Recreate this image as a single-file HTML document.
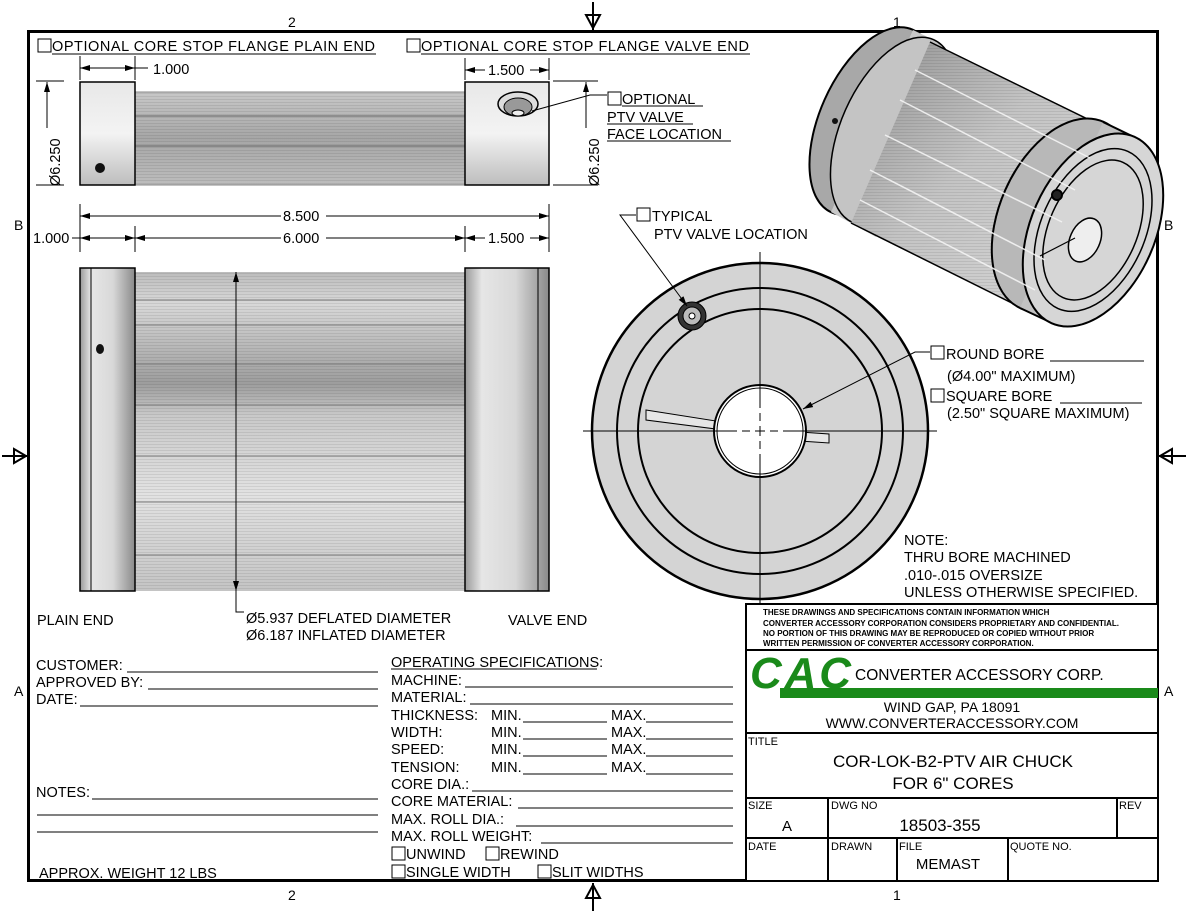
<!DOCTYPE html>
<html><head><meta charset="utf-8"><style>
html,body{margin:0;padding:0;background:#fff;}
svg{display:block;font-family:"Liberation Sans",sans-serif;}
</style></head><body>
<svg width="1200" height="913" viewBox="0 0 1200 913" xmlns="http://www.w3.org/2000/svg">
<defs>
<linearGradient id="flg" x1="0" y1="0" x2="0" y2="1">
<stop offset="0" stop-color="#e8e8e8"/><stop offset="0.5" stop-color="#f3f3f3"/><stop offset="1" stop-color="#bdbdbd"/></linearGradient>
<linearGradient id="flgH" x1="0" y1="0" x2="1" y2="0">
<stop offset="0" stop-color="#9a9a9a"/><stop offset="0.2" stop-color="#e6e6e6"/><stop offset="0.6" stop-color="#d8d8d8"/><stop offset="1" stop-color="#8a8a8a"/></linearGradient>
<linearGradient id="core" x1="0" y1="0" x2="0" y2="1">
<stop offset="0" stop-color="#bcbcbc"/><stop offset="0.1" stop-color="#d8d8d8"/><stop offset="0.35" stop-color="#9d9d9d"/><stop offset="0.45" stop-color="#c9c9c9"/><stop offset="0.7" stop-color="#e2e2e2"/><stop offset="1" stop-color="#c4c4c4"/></linearGradient>
<linearGradient id="coreS" x1="0" y1="0" x2="0" y2="1">
<stop offset="0" stop-color="#c8c8c8"/><stop offset="0.5" stop-color="#a6a6a6"/><stop offset="1" stop-color="#bdbdbd"/></linearGradient>
<linearGradient id="iso" x1="0" y1="0" x2="1" y2="1">
<stop offset="0" stop-color="#8e8e8e"/><stop offset="0.45" stop-color="#c4c4c4"/><stop offset="1" stop-color="#d8d8d8"/></linearGradient>
<pattern id="stripes" width="6" height="3" patternUnits="userSpaceOnUse"><rect width="6" height="1" fill="#000" opacity="0.08"/></pattern>
<marker id="ar" viewBox="0 0 10 6" refX="10" refY="3" markerWidth="10" markerHeight="6" orient="auto-start-reverse" markerUnits="userSpaceOnUse"><path d="M0,0 L10,3 L0,6 z" fill="#000"/></marker>
</defs>

<!-- border -->
<rect x="28.5" y="31.5" width="1129" height="849" fill="none" stroke="#000" stroke-width="3"/>
<g font-size="14">
<text x="288" y="27">2</text><text x="893" y="27">1</text>
<text x="288" y="900">2</text><text x="893" y="900">1</text>
<text x="14" y="230">B</text><text x="1164" y="230">B</text>
<text x="14" y="696">A</text><text x="1164" y="696">A</text>
</g>
<g stroke="#000" stroke-width="2" fill="none">
<line x1="593" y1="2" x2="593" y2="30"/><path d="M586,15 L600,15 L593,28 Z"/>
<line x1="593" y1="883" x2="593" y2="911"/><path d="M586,898 L600,898 L593,885 Z"/>
<line x1="2" y1="456" x2="27" y2="456"/><path d="M14,449 L14,463 L26,456 Z"/>
<line x1="1159" y1="456" x2="1186" y2="456"/><path d="M1172,449 L1172,463 L1160,456 Z"/>
</g>

<g font-size="14.5">
<rect x="38" y="39" width="13" height="13" fill="none" stroke="#000"/>
<text x="52" y="51" textLength="323">OPTIONAL CORE STOP FLANGE PLAIN END</text>
<line x1="52" y1="54" x2="376" y2="54" stroke="#000"/>
<rect x="407" y="39" width="13" height="13" fill="none" stroke="#000"/>
<text x="421" y="51" textLength="328">OPTIONAL CORE STOP FLANGE VALVE END</text>
<line x1="421" y1="54" x2="750" y2="54" stroke="#000"/>
</g>

<!-- top view -->
<rect x="135" y="92" width="330" height="93" fill="url(#coreS)" stroke="#888"/>
<rect x="135" y="92" width="330" height="93" fill="url(#stripes)"/>
<line x1="135" y1="116" x2="465" y2="116" stroke="#666"/>
<line x1="135" y1="146" x2="465" y2="146" stroke="#666"/>
<rect x="80" y="82" width="55" height="103" fill="url(#flg)" stroke="#000" stroke-width="1.5"/>
<rect x="465" y="82" width="84" height="103" fill="url(#flg)" stroke="#000" stroke-width="1.5"/>
<circle cx="100" cy="168" r="5" fill="#111"/>
<ellipse cx="518" cy="104" rx="20" ry="12" fill="#ddd" stroke="#000" stroke-width="1.5"/>
<ellipse cx="518" cy="107" rx="14" ry="9" fill="#999" stroke="#000"/>
<ellipse cx="518" cy="113" rx="6" ry="3" fill="#eee" stroke="#000"/>

<g stroke="#000" stroke-width="1" fill="none">
<line x1="80" y1="56" x2="80" y2="80"/><line x1="135" y1="56" x2="135" y2="80"/>
<line x1="80" y1="68" x2="135" y2="68" marker-start="url(#ar)" marker-end="url(#ar)"/>
<line x1="135" y1="68" x2="148" y2="68"/>
<line x1="465" y1="58" x2="465" y2="80"/><line x1="549" y1="58" x2="549" y2="80"/>
<line x1="465" y1="70" x2="485" y2="70" marker-start="url(#ar)"/><line x1="530" y1="70" x2="549" y2="70" marker-end="url(#ar)"/>
<line x1="36" y1="81" x2="64" y2="81"/><line x1="36" y1="185" x2="64" y2="185"/>
<line x1="47" y1="82" x2="47" y2="128" marker-start="url(#ar)"/>
<line x1="553" y1="81" x2="598" y2="81"/><line x1="553" y1="185" x2="598" y2="185"/>
<line x1="586" y1="82" x2="586" y2="128" marker-start="url(#ar)"/>
<line x1="80" y1="204" x2="80" y2="252"/><line x1="549" y1="204" x2="549" y2="252"/>
<line x1="135" y1="226" x2="135" y2="252"/><line x1="465" y1="226" x2="465" y2="252"/>
<line x1="80" y1="216" x2="281" y2="216" marker-start="url(#ar)"/><line x1="326" y1="216" x2="549" y2="216" marker-end="url(#ar)"/>
<line x1="135" y1="238" x2="281" y2="238" marker-start="url(#ar)"/><line x1="326" y1="238" x2="465" y2="238" marker-end="url(#ar)"/>
<line x1="72" y1="238" x2="80" y2="238"/><line x1="80" y1="238" x2="135" y2="238" marker-start="url(#ar)" marker-end="url(#ar)"/>
<line x1="465" y1="238" x2="485" y2="238" marker-start="url(#ar)"/><line x1="530" y1="238" x2="549" y2="238" marker-end="url(#ar)"/>
</g>
<g font-size="14.5">
<text x="153" y="74">1.000</text>
<text x="488" y="75">1.500</text>
<text x="283" y="221">8.500</text>
<text x="283" y="243">6.000</text>
<text x="33" y="243">1.000</text>
<text x="488" y="243">1.500</text>
<text transform="translate(60,186) rotate(-90)">Ø6.250</text>
<text transform="translate(599,186) rotate(-90)">Ø6.250</text>
</g>

<!-- main side view -->
<rect x="135" y="272" width="330" height="319" fill="url(#core)"/>
<rect x="135" y="272" width="330" height="319" fill="url(#stripes)"/>
<g stroke="#7a7a7a" stroke-width="1">
<line x1="135" y1="300" x2="465" y2="300"/><line x1="135" y1="325" x2="465" y2="325"/>
<line x1="135" y1="364" x2="465" y2="364"/><line x1="135" y1="405" x2="465" y2="405"/>
<line x1="135" y1="456" x2="465" y2="456"/><line x1="135" y1="502" x2="465" y2="502"/>
<line x1="135" y1="555" x2="465" y2="555"/>
</g>
<rect x="80" y="268" width="55" height="323" fill="url(#flgH)" stroke="#000" stroke-width="1.5"/>
<line x1="91" y1="268" x2="91" y2="591" stroke="#000"/>
<rect x="465" y="268" width="84" height="323" fill="url(#flgH)" stroke="#000" stroke-width="1.5"/>
<line x1="538" y1="268" x2="538" y2="591" stroke="#000"/>
<ellipse cx="100" cy="349" rx="4" ry="5" fill="#111"/>
<line x1="236" y1="272" x2="236" y2="591" stroke="#000" marker-start="url(#ar)" marker-end="url(#ar)"/>
<path d="M236,591 L236,612 L244,612" fill="none" stroke="#000"/>
<g font-size="14.5">
<text x="246" y="623">Ø5.937 DEFLATED DIAMETER</text>
<text x="246" y="640">Ø6.187 INFLATED DIAMETER</text>
<text x="37" y="625">PLAIN END</text>
<text x="508" y="625">VALVE END</text>
</g>

<path d="M532,111 L590,95 L607,95" fill="none" stroke="#000"/>
<g font-size="14.5">
<rect x="608" y="92" width="13" height="13" fill="none" stroke="#000"/>
<text x="622" y="104">OPTIONAL</text><line x1="622" y1="106" x2="703" y2="106" stroke="#000"/>
<text x="607" y="122">PTV VALVE</text><line x1="607" y1="124" x2="693" y2="124" stroke="#000"/>
<text x="607" y="139">FACE LOCATION</text><line x1="607" y1="141" x2="731" y2="141" stroke="#000"/>
</g>

<!-- end view -->
<circle cx="760" cy="431" r="168" fill="#d4d4d4" stroke="#000" stroke-width="2.5"/>
<circle cx="760" cy="431" r="143" fill="none" stroke="#000" stroke-width="2"/>
<circle cx="760" cy="431" r="122" fill="none" stroke="#000" stroke-width="2"/>
<polygon points="646,410 716,421 716,429 646,420" fill="#e6e6e6" stroke="#000"/>
<polygon points="800,432 829,434 829,443 800,441" fill="#e6e6e6" stroke="#000"/>
<circle cx="760" cy="431" r="46" fill="#fff" stroke="#000" stroke-width="2"/>
<circle cx="760" cy="431" r="43" fill="none" stroke="#000"/>
<circle cx="692" cy="316" r="14" fill="#333" stroke="#000"/>
<circle cx="692" cy="316" r="9" fill="#bbb" stroke="#000"/>
<circle cx="692" cy="316" r="3" fill="#fff" stroke="#000"/>
<g stroke="#000" stroke-width="1">
<line x1="583" y1="431" x2="737" y2="431"/><line x1="742" y1="431" x2="750" y2="431"/><line x1="755" y1="431" x2="765" y2="431"/><line x1="770" y1="431" x2="778" y2="431"/><line x1="783" y1="431" x2="937" y2="431"/>
<line x1="760" y1="252" x2="760" y2="408"/><line x1="760" y1="413" x2="760" y2="421"/><line x1="760" y1="426" x2="760" y2="436"/><line x1="760" y1="441" x2="760" y2="449"/><line x1="760" y1="454" x2="760" y2="612"/>
</g>
<path d="M636,215 L620,215 L687,306" fill="none" stroke="#000" marker-end="url(#ar)"/>
<path d="M930,352 L915,352 L803,409" fill="none" stroke="#000" marker-end="url(#ar)"/>
<g font-size="14.5">
<rect x="637" y="208" width="13" height="13" fill="none" stroke="#000"/>
<text x="652" y="221">TYPICAL</text>
<text x="654" y="239">PTV VALVE LOCATION</text>
<rect x="931" y="346" width="13" height="13" fill="none" stroke="#000"/>
<text x="946" y="359">ROUND BORE</text><line x1="1050" y1="361" x2="1144" y2="361" stroke="#000"/>
<text x="947" y="381">(Ø4.00" MAXIMUM)</text>
<rect x="931" y="389" width="13" height="13" fill="none" stroke="#000"/>
<text x="946" y="401">SQUARE BORE</text><line x1="1060" y1="403" x2="1142" y2="403" stroke="#000"/>
<text x="947" y="418">(2.50" SQUARE MAXIMUM)</text>
<text x="904" y="545">NOTE:</text>
<text x="904" y="562">THRU BORE MACHINED</text>
<text x="904" y="580">.010-.015 OVERSIZE</text>
<text x="904" y="597">UNLESS OTHERWISE SPECIFIED.</text>
</g>

<!-- iso view -->
<g stroke="#000" stroke-width="2">
<!-- back flange -->
<ellipse cx="872" cy="121" rx="52" ry="100" transform="rotate(24 872 121)" fill="#a8a8a8"/>
<polygon points="913,30 934,40 876,237 831,212" fill="#c9c9c9" stroke="none"/>
<ellipse cx="893" cy="131" rx="52" ry="100" transform="rotate(24 893 131)" fill="#c4c4c4" stroke-width="1.5"/>
<!-- body -->
<polygon points="930,42 1110,130 1028,311 851,223" fill="url(#iso)" stroke="none"/>
<polygon points="930,42 1110,130 1028,311 851,223" fill="url(#stripes)" stroke="none"/>
<line x1="930" y1="42" x2="1110" y2="130" stroke-width="1.5"/>
<line x1="851" y1="223" x2="1028" y2="311" stroke-width="1.5"/>
<!-- front flange band -->
<ellipse cx="1062" cy="215" rx="62" ry="102" transform="rotate(24 1062 215)" fill="#b8b8b8"/>
<polygon points="1103,122 1134,137 1052,323 1020,308" fill="#c2c2c2" stroke="none"/>
<line x1="1103" y1="122" x2="1134" y2="137"/>
<line x1="1020" y1="308" x2="1052" y2="323"/>
<ellipse cx="1093" cy="230" rx="62" ry="102" transform="rotate(24 1093 230)" fill="#d6d6d6"/>
<ellipse cx="1093" cy="230" rx="52" ry="86" transform="rotate(24 1093 230)" fill="none" stroke-width="1.5"/>
<ellipse cx="1093" cy="230" rx="44" ry="74" transform="rotate(24 1093 230)" fill="none" stroke-width="1.5"/>
<ellipse cx="1085" cy="240" rx="15" ry="23" transform="rotate(24 1085 240)" fill="#eee" stroke-width="1.5"/>
<circle cx="1057" cy="195" r="5" fill="#222"/>
<line x1="1040" y1="256" x2="1075" y2="238" stroke-width="1.2"/>
</g>
<g stroke="#f4f4f4" stroke-width="1.5" opacity="0.9">
<line x1="915" y1="70" x2="1090" y2="158"/><line x1="900" y1="100" x2="1075" y2="190"/><line x1="885" y1="135" x2="1062" y2="222"/><line x1="870" y1="170" x2="1045" y2="260"/><line x1="860" y1="200" x2="1035" y2="290"/>
</g>
<circle cx="835" cy="121" r="3" fill="#111"/>

<!-- left form -->
<g font-size="14.5" fill="#000">
<text x="36" y="670">CUSTOMER:</text><line x1="127" y1="672" x2="378" y2="672" stroke="#000"/>
<text x="36" y="687">APPROVED BY:</text><line x1="148" y1="689" x2="378" y2="689" stroke="#000"/>
<text x="36" y="704">DATE:</text><line x1="80" y1="706" x2="378" y2="706" stroke="#000"/>
<text x="36" y="797">NOTES:</text><line x1="92" y1="799" x2="378" y2="799" stroke="#000"/>
<line x1="37" y1="815" x2="378" y2="815" stroke="#000"/>
<line x1="37" y1="832" x2="378" y2="832" stroke="#000"/>
<text x="39" y="878">APPROX. WEIGHT 12 LBS</text>

<text x="391" y="667">OPERATING SPECIFICATIONS:</text><line x1="391" y1="669" x2="597" y2="669" stroke="#000"/>
<text x="391" y="685">MACHINE:</text><line x1="465" y1="687" x2="733" y2="687" stroke="#000"/>
<text x="391" y="702">MATERIAL:</text><line x1="470" y1="704" x2="733" y2="704" stroke="#000"/>
<text x="391" y="720">THICKNESS:</text><text x="491" y="720">MIN.</text><line x1="523" y1="722" x2="607" y2="722" stroke="#000"/><text x="611" y="720">MAX.</text><line x1="646" y1="722" x2="733" y2="722" stroke="#000"/>
<text x="391" y="737">WIDTH:</text><text x="491" y="737">MIN.</text><line x1="523" y1="739" x2="607" y2="739" stroke="#000"/><text x="611" y="737">MAX.</text><line x1="646" y1="739" x2="733" y2="739" stroke="#000"/>
<text x="391" y="754">SPEED:</text><text x="491" y="754">MIN.</text><line x1="523" y1="756" x2="607" y2="756" stroke="#000"/><text x="611" y="754">MAX.</text><line x1="646" y1="756" x2="733" y2="756" stroke="#000"/>
<text x="391" y="772">TENSION:</text><text x="491" y="772">MIN.</text><line x1="523" y1="774" x2="607" y2="774" stroke="#000"/><text x="611" y="772">MAX.</text><line x1="646" y1="774" x2="733" y2="774" stroke="#000"/>
<text x="391" y="789">CORE DIA.:</text><line x1="472" y1="791" x2="733" y2="791" stroke="#000"/>
<text x="391" y="806">CORE MATERIAL:</text><line x1="518" y1="808" x2="733" y2="808" stroke="#000"/>
<text x="391" y="824">MAX. ROLL DIA.:</text><line x1="516" y1="826" x2="733" y2="826" stroke="#000"/>
<text x="391" y="841">MAX. ROLL WEIGHT:</text><line x1="541" y1="843" x2="733" y2="843" stroke="#000"/>
<rect x="392" y="847" width="13" height="13" fill="none" stroke="#000"/><text x="406" y="859">UNWIND</text>
<rect x="486" y="847" width="13" height="13" fill="none" stroke="#000"/><text x="500" y="859">REWIND</text>
<rect x="392" y="865" width="13" height="13" fill="none" stroke="#000"/><text x="406" y="877">SINGLE WIDTH</text>
<rect x="538" y="865" width="13" height="13" fill="none" stroke="#000"/><text x="552" y="877">SLIT WIDTHS</text>
</g>

<!-- title block -->
<g stroke="#000" stroke-width="2" fill="none">
<rect x="746" y="604" width="412" height="277" fill="#fff"/>
<line x1="746" y1="650" x2="1158" y2="650"/>
<line x1="746" y1="733" x2="1158" y2="733"/>
<line x1="746" y1="798" x2="1158" y2="798"/>
<line x1="746" y1="838" x2="1158" y2="838"/>
<line x1="828" y1="798" x2="828" y2="881"/>
<line x1="1117" y1="798" x2="1117" y2="838"/>
<line x1="897" y1="838" x2="897" y2="881"/>
<line x1="1008" y1="838" x2="1008" y2="881"/>
</g>
<g font-size="8" font-weight="bold">
<text x="763" y="615">THESE DRAWINGS AND SPECIFICATIONS CONTAIN INFORMATION WHICH</text>
<text x="763" y="626">CONVERTER ACCESSORY CORPORATION CONSIDERS PROPRIETARY AND CONFIDENTIAL.</text>
<text x="763" y="636">NO PORTION OF THIS DRAWING MAY BE REPRODUCED OR COPIED WITHOUT PRIOR</text>
<text x="763" y="646">WRITTEN PERMISSION OF CONVERTER ACCESSORY CORPORATION.</text>
</g>
<rect x="780" y="688" width="378" height="10" fill="#1a8a1a"/>
<text x="750" y="688" font-size="44" font-weight="bold" font-style="italic" fill="#1a8a1a" textLength="98" letter-spacing="-3">CAC</text>
<text x="855" y="680" font-size="15.5">CONVERTER ACCESSORY CORP.</text>
<text x="952" y="712" font-size="14" text-anchor="middle">WIND GAP, PA 18091</text>
<text x="952" y="728" font-size="14" text-anchor="middle">WWW.CONVERTERACCESSORY.COM</text>
<text x="748" y="745" font-size="11">TITLE</text>
<text x="953" y="767" font-size="17" text-anchor="middle">COR-LOK-B2-PTV AIR CHUCK</text>
<text x="953" y="789" font-size="17" text-anchor="middle">FOR 6" CORES</text>
<g font-size="11">
<text x="748" y="809">SIZE</text><text x="831" y="809">DWG NO</text><text x="1119" y="809">REV</text>
<text x="748" y="850">DATE</text><text x="831" y="850">DRAWN</text><text x="899" y="850">FILE</text><text x="1010" y="850">QUOTE NO.</text>
</g>
<text x="787" y="831" font-size="15" text-anchor="middle">A</text>
<text x="940" y="831" font-size="17" text-anchor="middle">18503-355</text>
<text x="948" y="869" font-size="15" text-anchor="middle">MEMAST</text>
</svg>
</body></html>
